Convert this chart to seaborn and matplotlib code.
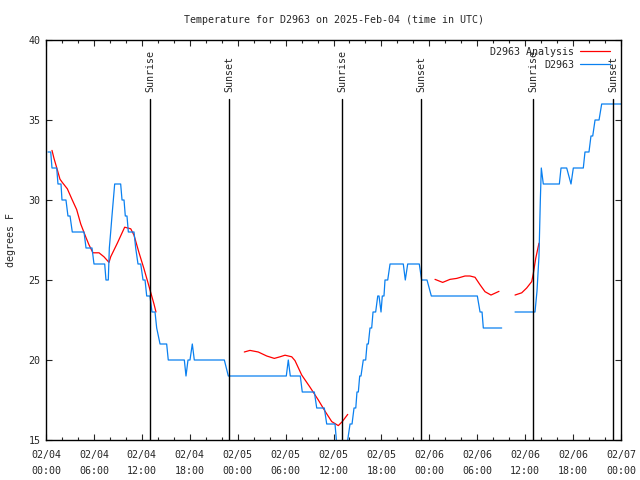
import pandas as pd
import matplotlib
matplotlib.use('Agg')
import matplotlib.pyplot as plt
from matplotlib.lines import Line2D
import seaborn as sns

# -------------------------------------------------------------------
# DATA (hours since 02/04 00:00 UTC, degrees F)
# -------------------------------------------------------------------
obs_hours = [0.25, 0.59, 0.75, 1.34, 1.50, 1.88, 2.00, 2.50, 2.75, 3.01, 3.29, 4.76,
             5.01, 5.76, 6.01, 7.35, 7.51, 7.80, 7.93, 8.10, 8.26, 8.43, 8.60, 9.35,
             9.52, 9.77, 9.93, 10.14, 10.31, 11.02, 11.23, 11.52, 11.86, 12.15, 12.40,
             12.61, 13.02, 13.27, 13.65, 13.86, 14.28, 15.11, 15.31, 17.32, 17.53,
             17.78, 18.03, 18.32, 18.57, 22.33, 22.83, 30.09, 30.34, 30.59, 31.84,
             32.09, 33.60, 33.90, 34.85, 35.15, 36.19, 36.53, 37.57, 37.78, 38.07,
             38.32, 38.57, 38.79, 38.94, 39.11, 39.28, 39.44, 39.73, 40.03, 40.20,
             40.36, 40.57, 40.78, 40.95, 41.28, 41.54, 41.70, 41.95, 42.11, 42.32,
             42.45, 42.79, 43.08, 44.74, 44.99, 45.29, 46.74, 47.04, 47.71, 48.25,
             54.01, 54.35, 54.60, 54.76, 57.06,
             58.73, 61.23, 61.48, 61.73, 61.90, 62.02, 62.27, 64.28, 64.49, 65.20,
             65.74, 66.03, 67.28, 67.49, 67.99, 68.24, 68.46, 68.75, 69.25, 69.58, 72.00]
obs_temp = [33, 33, 32, 32, 31, 31, 30, 30, 29, 29, 28, 28,
            27, 27, 26, 26, 25, 25, 27, 28, 29, 30, 31, 31,
            30, 30, 29, 29, 28, 28, 27, 26, 26, 25, 25,
            24, 24, 23, 23, 22, 21, 21, 20, 20, 19,
            20, 20, 21, 20, 20, 19, 19, 20, 19, 19,
            18, 18, 17, 17, 16, 16, 14, 14, 15, 16,
            16, 17, 17, 18, 18, 19, 19, 20, 20, 21,
            21, 22, 22, 23, 23, 24, 24, 23, 24, 24,
            25, 25, 26, 26, 25, 26, 26, 25, 25, 24,
            24, 23, 23, 22, 22,
            23, 23, 24.3, 26.5, 30, 32, 31, 31, 32, 32,
            31, 32, 32, 33, 33, 34, 34, 35, 35, 36, 36]
obs_seg = [0] * 100 + [1] * 21

ana_hours = [0.75, 1.00, 1.41, 1.75, 2.04, 2.67, 3.29, 3.84, 4.35, 4.97, 5.38, 5.88,
             6.64, 7.26, 7.89, 8.10, 8.93, 9.85, 10.61, 11.02, 11.65, 12.27, 12.90,
             13.52, 13.77,
             24.83, 25.54, 26.58, 27.64, 28.59, 29.30, 29.93, 30.77, 31.18, 32.02,
             33.06, 34.10, 34.94, 35.78, 36.60, 37.10, 37.78,
             48.71, 49.67, 50.59, 51.43, 52.47, 53.09, 53.72, 54.35, 54.97, 55.72, 56.72,
             58.73, 59.57, 60.19, 60.82, 61.02, 61.32, 61.73]
ana_temp = [33.1, 32.6, 31.9, 31.3, 31.1, 30.7, 30.0, 29.4, 28.5, 27.7, 27.2, 26.7,
            26.7, 26.45, 26.1, 26.45, 27.3, 28.3, 28.2, 27.8, 26.7, 25.7, 24.6,
            23.5, 23.0,
            20.5, 20.6, 20.5, 20.25, 20.1, 20.2, 20.3, 20.2, 19.96, 19.06,
            18.3, 17.5, 16.8, 16.15, 15.9, 16.15, 16.6,
            25.04, 24.85, 25.04, 25.1, 25.25, 25.25, 25.17, 24.7, 24.27, 24.06, 24.29,
            24.06, 24.2, 24.5, 24.9, 25.4, 26.35, 27.3]
ana_seg = [0] * 25 + [1] * 17 + [2] * 11 + [3] * 7

sun_hours = [13.06, 22.95, 37.1, 47.0, 61.02, 71.04]
sun_labels = ['Sunrise', 'Sunset', 'Sunrise', 'Sunset', 'Sunrise', 'Sunset']

tick_hours = [0, 6, 12, 18, 24, 30, 36, 42, 48, 54, 60, 66, 72]
tick_labels = ['02/04\n00:00', '02/04\n06:00', '02/04\n12:00', '02/04\n18:00',
               '02/05\n00:00', '02/05\n06:00', '02/05\n12:00', '02/05\n18:00',
               '02/06\n00:00', '02/06\n06:00', '02/06\n12:00', '02/06\n18:00',
               '02/07\n00:00']

obs = pd.DataFrame({'hour': obs_hours, 'temp': obs_temp, 'seg': obs_seg})
ana = pd.DataFrame({'hour': ana_hours, 'temp': ana_temp, 'seg': ana_seg})

# -------------------------------------------------------------------
# PLOT
# -------------------------------------------------------------------
sns.set_style("ticks")
plt.rcParams['font.family'] = ['DejaVu Sans Mono']
plt.rcParams['font.size'] = 7.2

RED = '#ff0000'
BLUE = '#0a80f0'

fig = plt.figure(figsize=(6.4, 4.8), dpi=100)
ax = fig.add_axes([46 / 640, 40 / 480, 575 / 640, 400 / 480])

sns.lineplot(data=ana, x='hour', y='temp', units='seg', estimator=None,
             color=RED, lw=0.9, sort=False, ax=ax)
sns.lineplot(data=obs, x='hour', y='temp', units='seg', estimator=None,
             color=BLUE, lw=0.9, sort=False, ax=ax)

for h, lab in zip(sun_hours, sun_labels):
    ax.axvline(h, ymin=0, ymax=0.8525, color='black', lw=1.0)
    ax.text(h, 0.87, lab, transform=ax.get_xaxis_transform(), rotation=90,
            ha='center', va='bottom', fontsize=7.2)

ax.set_xlim(0, 72)
ax.set_ylim(15, 40)
ax.set_xticks(tick_hours)
ax.set_xticklabels(tick_labels, linespacing=1.75)
ax.set_xticks(range(0, 73, 2), minor=True)
ax.set_yticks([15, 20, 25, 30, 35, 40])
ax.tick_params(direction='in', top=True, right=True, length=4, width=0.8,
               labelsize=7.2, pad=4)
ax.tick_params(axis='x', pad=7)
ax.tick_params(which='minor', direction='in', top=True, bottom=True,
               length=2.5, width=0.8)
for s in ax.spines.values():
    s.set_linewidth(1.0)
    s.set_color('black')

ax.set_xlabel('')
ax.set_ylabel('degrees F', fontsize=7.2, labelpad=9)
ax.set_title('Temperature for D2963 on 2025-Feb-04 (time in UTC)',
             fontsize=7.2, pad=12)

handles = [Line2D([], [], color=RED, lw=0.9), Line2D([], [], color=BLUE, lw=0.9)]
ax.legend(handles, ['D2963 Analysis', 'D2963'], loc='upper right',
          bbox_to_anchor=(1 - 4 / 575, 1), frameon=False, markerfirst=False,
          handlelength=3.0, handletextpad=0.6, labelspacing=0.3,
          borderaxespad=0.3, fontsize=7.2)

fig.savefig('out.png', dpi=100)
